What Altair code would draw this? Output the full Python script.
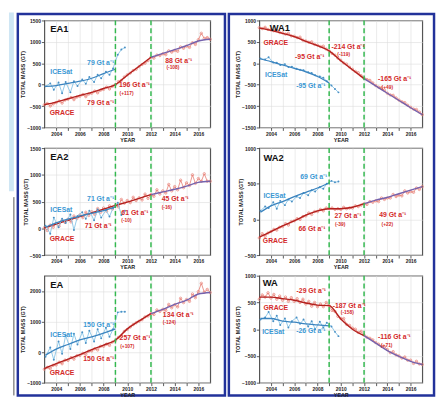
import altair as alt
import pandas as pd

# ---------------- data ----------------
T_GRACE = [2003.0, 2003.25, 2003.5, 2003.75, 2004.0, 2004.25, 2004.5, 2004.75,
           2005.0, 2005.25, 2005.5, 2005.75, 2006.0, 2006.25, 2006.5, 2006.75,
           2007.0, 2007.25, 2007.5, 2007.75, 2008.0, 2008.25, 2008.5, 2008.75,
           2009.0, 2009.25, 2009.5, 2009.75, 2010.0, 2010.25, 2010.5, 2010.75,
           2011.0, 2011.25, 2011.5, 2011.75, 2012.0, 2012.25, 2012.5, 2012.75,
           2013.0, 2013.25, 2013.5, 2013.75, 2014.0, 2014.25, 2014.5, 2014.75,
           2015.0, 2015.25, 2015.5, 2015.75, 2016.0, 2016.25, 2016.5, 2016.75, 2017.0]
T_SMOOTH = [2003, 2004, 2005, 2006, 2007, 2008, 2009, 2010, 2011, 2012, 2013, 2014, 2015, 2016, 2017]
T_ICESAT = [2003.1, 2003.5, 2003.8, 2004.2, 2004.5, 2004.8, 2005.2, 2005.5, 2005.8, 2006.2, 2006.5,
            2006.8, 2007.2, 2007.5, 2007.8, 2008.2, 2008.5, 2008.8, 2009.2, 2009.5, 2009.8]
T_ICESAT_SMOOTH = [2003.1, 2004, 2005, 2006, 2007, 2008, 2009]

EA1_GRACE = [-470, -440, -500, -450, -420, -380, -430, -360, -340, -300, -350, -290,
             -270, -230, -280, -220, -200, -150, -190, -130, -110, -60, -100, -40,
             0, 70, 100, 180, 230, 270, 330, 360, 420, 470, 500, 560,
             640, 620, 690, 680, 720, 700, 790, 760, 800, 780, 880, 850,
             900, 870, 980, 940, 1050, 1200, 1080, 1100, 1060]
EA1_SMOOTH = [-470, -410, -330, -250, -180, -90, 0, 220, 430, 640, 730, 820, 910, 1020, 1060]
EA1_ICESAT = [-40, 30, -120, 50, -200, 60, -180, 80, -30, 120, 20, 180, 60, 230, 150, 300, 230, 380, 700, 820, 870]
EA1_ICESAT_SMOOTH = [-40, -20, 30, 80, 150, 260, 360]

EA2_GRACE = [10, -40, 60, 20, 90, 40, 150, 110, 170, 120, 230, 180,
             250, 200, 300, 240, 310, 260, 370, 300, 380, 320, 420, 360,
             430, 400, 540, 470, 520, 480, 580, 520, 570, 530, 640, 560,
             630, 600, 720, 640, 700, 660, 820, 700, 780, 720, 900, 760,
             850, 800, 1000, 840, 930, 880, 1020, 880, 880]
EA2_SMOOTH = [10, 80, 150, 220, 290, 360, 430, 490, 560, 630, 680, 730, 790, 860, 880]
EA2_ICESAT = [50, -100, 200, 20, 180, 100, 260, -30, 230, 300, 180, 330, 150, 350, 200, 340, 220, 380, 480, 250, 330]
EA2_ICESAT_SMOOTH = [20, 100, 170, 230, 280, 330, 400]

EA_GRACE = [-560, -500, -540, -430, -420, -330, -380, -260, -270, -180, -230, -120,
            -110, -40, -80, 30, 40, 110, 70, 190, 190, 260, 220, 330,
            380, 480, 520, 680, 740, 820, 900, 960, 1010, 1060, 1150, 1180,
            1260, 1230, 1380, 1330, 1400, 1360, 1560, 1450, 1550, 1480, 1760, 1620,
            1720, 1660, 1900, 1780, 1980, 2250, 1960, 2050, 1950]
EA_SMOOTH = [-540, -380, -230, -80, 80, 230, 390, 760, 1020, 1260, 1400, 1560, 1700, 1900, 1950]
EA_ICESAT = [-150, 150, -250, 350, -50, 550, 100, 600, 250, 650, 300, 700, 350, 750, 450, 800, 500, 750, 1300, 1320, 1320]
EA_ICESAT_SMOOTH = [-100, 100, 250, 400, 500, 620, 760]

WA1_GRACE = [830, 810, 840, 790, 780, 760, 770, 720, 710, 680, 700, 640,
             630, 600, 610, 540, 520, 490, 500, 440, 420, 390, 400, 330,
             290, 230, 190, 120, 70, 10, -20, -90, -140, -190, -220, -290,
             -350, -380, -400, -460, -520, -560, -570, -630, -700, -740, -750, -810,
             -860, -900, -920, -980, -1030, -1070, -1080, -1140, -1200]
WA1_SMOOTH = [820, 770, 700, 620, 510, 410, 290, 60, -150, -360, -530, -700, -870, -1040, -1200]
WA1_ICESAT = [110, 90, 140, 20, 10, -40, -20, -90, -80, -130, -150, -160, -210, -230, -280, -310, -340, -420, -520, -600, -680]
WA1_ICESAT_SMOOTH = [100, 40, -40, -120, -200, -310, -460]

WA2_GRACE = [-260, -200, -240, -190, -170, -140, -150, -110, -100, -60, -80, -30,
             -20, 10, 0, 40, 50, 90, 70, 110, 110, 140, 120, 160,
             150, 160, 140, 150, 140, 170, 150, 160, 160, 190, 180, 200,
             220, 210, 250, 240, 260, 250, 300, 280, 300, 300, 350, 320,
             340, 330, 400, 370, 390, 380, 440, 420, 460]
WA2_SMOOTH = [-250, -170, -90, -20, 60, 120, 150, 150, 170, 220, 270, 310, 360, 410, 460]
WA2_ICESAT = [120, 180, 160, 240, 150, 260, 200, 280, 250, 320, 300, 370, 340, 410, 390, 450, 430, 500, 540, 520, 530]
WA2_ICESAT_SMOOTH = [100, 190, 250, 320, 380, 440, 510]

WA_GRACE = [560, 640, 600, 680, 580, 650, 560, 620, 540, 600, 520, 590,
            520, 570, 500, 560, 470, 520, 430, 500, 420, 470, 420, 500,
            440, 350, 330, 240, 200, 200, 90, 70, 20, 0, -60, -40,
            -110, -150, -170, -200, -250, -280, -320, -330, -380, -440, -420, -480,
            -500, -540, -520, -580, -580, -640, -600, -650, -660]
WA_SMOOTH = [600, 600, 570, 540, 490, 450, 440, 190, 0, -120, -260, -400, -510, -600, -660]
WA_ICESAT = [180, 220, 320, 150, 250, 80, 200, 30, 150, 220, 100, 180, 50, 150, 0, 140, 30, 120, 50, -50, -130]
WA_ICESAT_SMOOTH = [200, 200, 150, 130, 100, 80, 60]

BREAKS = [2009, 2012]
AXIS_YEARS = [2004, 2005, 2006, 2007, 2008, 2009, 2010, 2011, 2012, 2013, 2014, 2015, 2016]

R = "#d42a2a"
B = "#3b98d4"
K = "#111111"

EA1_NOTES_L = [("EA1", 2003.5, 1290, K, 9.5), ("ICESat", 2003.5, 285, B, 7), ("GRACE", 2003.45, -660, R, 7),
               ("196 Gt a⁻¹", 2009.3, -10, R, 7), ("(+117)", 2009.35, -190, R, 5),
               ("88 Gt a⁻¹", 2013.2, 560, R, 7), ("(-108)", 2013.3, 410, R, 5)]
EA1_NOTES_R = [("79 Gt a⁻¹", 2008.9, 510, B, 7), ("79 Gt a⁻¹", 2008.9, -430, R, 7)]

EA2_NOTES_L = [("EA2", 2003.5, 1335, K, 9.5), ("ICESat", 2003.5, 344, B, 7), ("GRACE", 2003.45, -207, R, 7),
               ("61 Gt a⁻¹", 2009.5, 294, R, 7), ("(-10)", 2009.5, 160, R, 5),
               ("45 Gt a⁻¹", 2012.9, 551, R, 7), ("(-16)", 2012.9, 400, R, 5)]
EA2_NOTES_R = [("71 Gt a⁻¹", 2008.9, 550, B, 7), ("71 Gt a⁻¹", 2008.7, 50, R, 7)]

EA_NOTES_L = [("EA", 2003.5, 2180, K, 9.5), ("ICESat", 2003.5, 550, B, 7), ("GRACE", 2003.45, -680, R, 7),
              ("257 Gt a⁻¹", 2009.35, 445, R, 7), ("(+107)", 2009.4, 190, R, 5),
              ("134 Gt a⁻¹", 2013.0, 1215, R, 7), ("(-124)", 2013.0, 1000, R, 5)]
EA_NOTES_R = [("150 Gt a⁻¹", 2008.9, 895, B, 7), ("150 Gt a⁻¹", 2008.9, -230, R, 7)]

WA1_NOTES_L = [("WA1", 2003.9, 827, K, 9.5), ("GRACE", 2003.35, 463, R, 7), ("ICESat", 2003.5, -273, B, 7),
               ("-214 Gt a⁻¹", 2009.2, 373, R, 7), ("(-119)", 2009.7, 220, R, 5),
               ("-165 Gt a⁻¹", 2013.2, -370, R, 7), ("(+49)", 2013.5, -560, R, 5)]
WA1_NOTES_R = [("-95 Gt a⁻¹", 2008.6, 145, R, 7), ("-95 Gt a⁻¹", 2008.7, -537, B, 7)]

WA2_NOTES_L = [("WA2", 2003.35, 860, K, 9.5), ("ICESat", 2003.35, 330, B, 7), ("GRACE", 2003.3, -303, R, 7),
               ("27 Gt a⁻¹", 2009.45, 48, R, 7), ("(-39)", 2009.5, -64, R, 5),
               ("49 Gt a⁻¹", 2013.3, 62, R, 7), ("(+22)", 2013.5, -64, R, 5)]
WA2_NOTES_R = [("69 Gt a⁻¹", 2008.85, 587, B, 7), ("66 Gt a⁻¹", 2008.7, -135, R, 7)]

WA_NOTES_L = [("WA", 2003.3, 865, K, 9.5), ("-29 Gt a⁻¹", 2006.2, 711, R, 7), ("GRACE", 2003.35, 402, R, 7),
              ("-187 Gt a⁻¹", 2009.3, 433, R, 7), ("(-158)", 2010.0, 322, R, 5),
              ("ICESat", 2003.25, -61, B, 7), ("-116 Gt a⁻¹", 2013.2, -141, R, 7), ("(+71)", 2013.45, -290, R, 5)]
WA_NOTES_R = [("-26 Gt a⁻¹", 2008.7, -43, B, 7)]

FONT = "Liberation Sans"


def notes_df(notes):
    return pd.DataFrame(notes, columns=["txt", "t", "v", "c", "s"])


def panel(grace, smooth, ice, ice_s, ydom, yvals, w, h, notes_l, notes_r, decos=()):
    X = alt.X("t:Q", scale=alt.Scale(domain=[2003, 2017], nice=False, zero=False),
              axis=alt.Axis(values=AXIS_YEARS, format="d", title="YEAR",
                            labelExpr="datum.value % 2 == 0 ? datum.label : ''"))
    Y = alt.Y("v:Q", scale=alt.Scale(domain=ydom, nice=False, zero=False),
              axis=alt.Axis(values=yvals, format="d", title="TOTAL MASS (GT)"))

    dg = pd.DataFrame({"t": T_GRACE, "v": grace})
    ds = pd.DataFrame({"t": T_SMOOTH, "v": smooth})
    ds_pre = ds[ds.t <= 2012]
    ds_post = ds[ds.t >= 2012]
    di = pd.DataFrame({"t": T_ICESAT, "v": ice})
    dis = pd.DataFrame({"t": T_ICESAT_SMOOTH, "v": ice_s})
    dbk = pd.DataFrame({"t": BREAKS})

    layers = [
        alt.Chart(dg).mark_line(color="#e77c72", strokeWidth=0.8,
                                point=alt.OverlayMarkDef(filled=False, size=6, strokeWidth=0.7, color="#e77c72")
                                ).encode(x=X, y=Y),
        alt.Chart(ds_pre).mark_line(color="#b3201e", strokeWidth=1.4, interpolate="monotone").encode(x=X, y=Y),
        alt.Chart(ds_post).mark_line(color="#7462ad", strokeWidth=1.4, interpolate="monotone").encode(x=X, y=Y),
        alt.Chart(di).mark_line(color="#86c3e6", strokeWidth=0.9,
                                point=alt.OverlayMarkDef(filled=True, size=4, color="#4a90c4")
                                ).encode(x=X, y=Y),
        alt.Chart(dis).mark_line(color="#3b84bf", strokeWidth=1.3, interpolate="monotone").encode(x=X, y=Y),
        alt.Chart(dbk).mark_rule(color="#33b84f", strokeWidth=1.5, strokeDash=[5, 3]).encode(x=X),
        alt.Chart(notes_df(notes_l)).mark_text(align="left", baseline="middle", fontWeight="bold", font=FONT).encode(
            x=X, y=Y, text="txt:N", color=alt.Color("c:N", scale=None), size=alt.Size("s:Q", scale=None)),
    ]
    if notes_r:
        layers.append(
            alt.Chart(notes_df(notes_r)).mark_text(align="right", baseline="middle", fontWeight="bold", font=FONT).encode(
                x=X, y=Y, text="txt:N", color=alt.Color("c:N", scale=None), size=alt.Size("s:Q", scale=None)))
    layers.extend(decos)
    return alt.layer(*layers).properties(width=w, height=h)


ONE = pd.DataFrame({"k": [0]})
BORDER = "#22329a"


def frame(x0, x1, y0, y1):
    return alt.Chart(ONE).mark_rect(fillOpacity=0, stroke=BORDER, strokeWidth=2.5).encode(
        x=alt.value(x0), x2=alt.value(x1), y=alt.value(y0), y2=alt.value(y1))


strip = alt.Chart(ONE).mark_rect(color="#cfe6f4").encode(
    x=alt.value(-36), x2=alt.value(-31), y=alt.value(-8), y2=alt.value(174))
table_edge = alt.Chart(ONE).mark_rule(color="#555555", strokeWidth=1).encode(
    x=alt.value(-31), y=alt.value(180), y2=alt.value(382))

LW, RW, H = 169, 166, 109

ea1 = panel(EA1_GRACE, EA1_SMOOTH, EA1_ICESAT, EA1_ICESAT_SMOOTH, [-1000, 1500],
            [1500, 1000, 500, 0, -500, -1000], LW, H, EA1_NOTES_L, EA1_NOTES_R,
            decos=[strip, table_edge, frame(-27, 184, -6.5, 382)])
wa1 = panel(WA1_GRACE, WA1_SMOOTH, WA1_ICESAT, WA1_ICESAT_SMOOTH, [-1500, 1000],
            [1000, 500, 0, -500, -1000, -1500], RW, H, WA1_NOTES_L, WA1_NOTES_R,
            decos=[frame(-31, 178, -6.5, 382)])
ea2 = panel(EA2_GRACE, EA2_SMOOTH, EA2_ICESAT, EA2_ICESAT_SMOOTH, [-500, 1500],
            [1500, 1000, 500, 0, -500], LW, H, EA2_NOTES_L, EA2_NOTES_R)
wa2 = panel(WA2_GRACE, WA2_SMOOTH, WA2_ICESAT, WA2_ICESAT_SMOOTH, [-500, 1000],
            [1000, 500, 0, -500], RW, H, WA2_NOTES_L, WA2_NOTES_R)
ea = panel(EA_GRACE, EA_SMOOTH, EA_ICESAT, EA_ICESAT_SMOOTH, [-1000, 2500],
           [2000, 1000, 0, -1000], LW, H, EA_NOTES_L, EA_NOTES_R)
wa = panel(WA_GRACE, WA_SMOOTH, WA_ICESAT, WA_ICESAT_SMOOTH, [-1000, 1000],
           [1000, 500, 0, -500, -1000], RW, H, WA_NOTES_L, WA_NOTES_R)

chart = alt.concat(ea1, wa1, ea2, wa2, ea, wa, columns=2).properties(
    spacing={"row": 21, "column": 50}, bounds="flush", padding=0
).configure_view(
    stroke="#555555", strokeWidth=1.2
).configure_axis(
    labelFont=FONT, labelFontSize=5, labelFontWeight="bold", labelColor="#222222",
    titleFont=FONT, titleFontSize=5.5, titleFontWeight="bold", titleColor="#222222",
    titlePadding=1, labelPadding=1, tickSize=3, tickColor="#333333", tickWidth=0.8,
    domain=False, gridColor="#dddddd", gridWidth=0.6
).configure_text(font=FONT)

chart.save("out.html", embed_options={"renderer": "svg", "actions": False})
